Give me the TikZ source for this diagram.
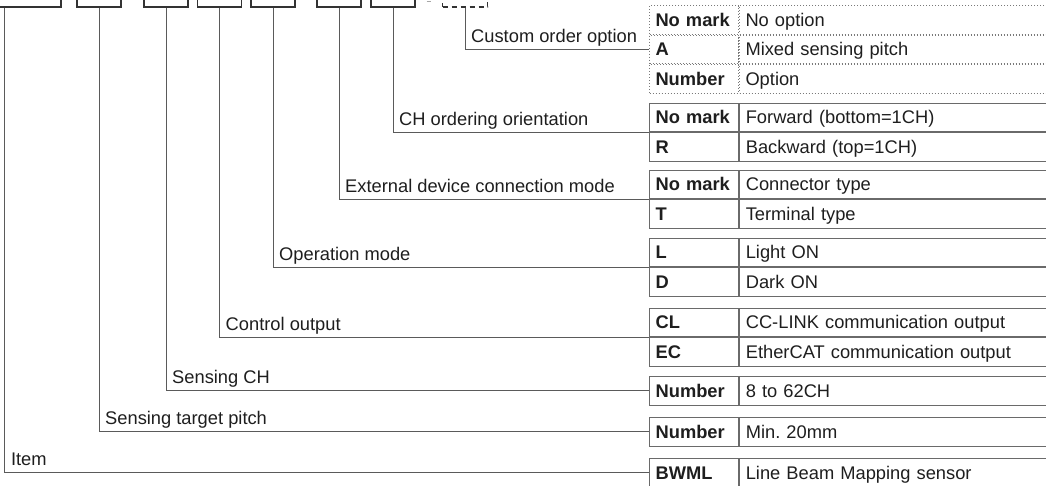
\documentclass[tikz,border=0pt]{standalone}
\usepackage{fontspec}
\setmainfont{Liberation Sans}
\usepackage{tikz}
\usetikzlibrary{positioning, calc}
\definecolor{frameline}{HTML}{333333}
\definecolor{gridline} {HTML}{6A6A6A}
\definecolor{dotline}  {HTML}{7A7A7A}
\definecolor{leadline} {HTML}{5A5A5A}
\definecolor{inktext}  {HTML}{1E1E1E}
\newcommand{\diafont}{\fontsize{18.3}{22}\selectfont}
\tikzset{
  codebox/.style={
    draw=frameline, line width=1.3pt, rectangle,
    minimum width=44pt, minimum height=38pt, inner sep=0pt
  },
  optbox/.style={
    codebox, dash pattern=on 5pt off 4pt
  },
  keycell/.style={
    draw=gridline, line width=1.2pt, rectangle,
    minimum width=89pt, minimum height=28.5pt,
    text width=77pt, text height=16pt, text depth=3pt,
    inner xsep=6pt, inner ysep=0pt,
    align=left, font=\diafont\bfseries, text=inktext
  },
  valcell/.style={
    draw=gridline, line width=1.2pt, rectangle,
    minimum width=330pt, minimum height=28.5pt,
    text width=318pt, text height=16pt, text depth=3pt,
    inner xsep=6pt, inner ysep=0pt,
    align=left, font=\diafont, text=inktext
  },
  keydot/.style={
    keycell, draw=dotline, line width=1pt, dash pattern=on 1.2pt off 1.8pt
  },
  valdot/.style={
    valcell, draw=dotline, line width=1pt, dash pattern=on 1.2pt off 1.8pt
  },
  leader/.style={
    draw=leadline, line width=1pt
  },
  leadlabel/.style={
    anchor=base west, inner sep=0pt, xshift=6pt, yshift=7pt,
    font=\diafont, text=inktext
  },
}

\begin{document}
\begin{tikzpicture}[x=1pt, y=-1pt, font=\diafont]

% ---- Frame: image is 1046 x 485, y runs downward -------------------
\clip (0,0) rectangle (1046,485);

% ---- Code boxes (top edge runs off the page) -----------------------
\node[codebox, minimum width=81pt] (b1) at ( 20.5,-12) {};
\node[codebox] (b2) at ( 99.0,-12) {};
\node[codebox] (b3) at (166.0,-12) {};
\node[codebox] (b4) at (219.5,-12) {};
\node[codebox] (b5) at (273.0,-12) {};
\node[codebox] (b6) at (339.0,-12) {};
\node[codebox] (b7) at (393.0,-12) {};
\node[optbox, minimum width=45pt] (b8) at (465.0,-12) {};
\coordinate (b1tap) at ([xshift=25.5pt]b1.south west);

% hyphen between fixed part and option box
\draw[leader, draw=black!35] ($(b7.south east)+(11,-6)$) -- ++(4,0);

% ---- Option tables ------------------------------------------------
% custom order option (dotted)
\node[keydot, anchor=north west] (c1k) at (649,5) {No mark};
\node[valdot, right=0pt of c1k] (c1v) {No option};
\node[keydot, below=0pt of c1k] (c2k) {A};
\node[valdot, right=0pt of c2k] (c2v) {Mixed sensing pitch};
\node[keydot, below=0pt of c2k] (c3k) {Number};
\node[valdot, right=0pt of c3k] (c3v) {Option};

% CH ordering orientation
\node[keycell, anchor=north west] (r1k) at (649,102.5) {No mark};
\node[valcell, right=0pt of r1k] (r1v) {Forward (bottom=1CH)};
\node[keycell, below=0pt of r1k] (r2k) {R};
\node[valcell, right=0pt of r2k] (r2v) {Backward (top=1CH)};

% external device connection mode
\node[keycell, anchor=north west] (e1k) at (649,169.5) {No mark};
\node[valcell, right=0pt of e1k] (e1v) {Connector type};
\node[keycell, below=0pt of e1k] (e2k) {T};
\node[valcell, right=0pt of e2k] (e2v) {Terminal type};

% operation mode
\node[keycell, anchor=north west] (o1k) at (649,237.5) {L};
\node[valcell, right=0pt of o1k] (o1v) {Light ON};
\node[keycell, below=0pt of o1k] (o2k) {D};
\node[valcell, right=0pt of o2k] (o2v) {Dark ON};

% control output
\node[keycell, anchor=north west] (k1k) at (649,307.5) {CL};
\node[valcell, right=0pt of k1k] (k1v) {CC-LINK communication output};
\node[keycell, below=0pt of k1k] (k2k) {EC};
\node[valcell, right=0pt of k2k] (k2v) {EtherCAT communication output};

% sensing CH / pitch / item
\node[keycell, anchor=north west] (nk) at (649,376) {Number};
\node[valcell, right=0pt of nk] (nv) {8 to 62CH};
\node[keycell, anchor=north west] (pk) at (649,417) {Number};
\node[valcell, right=0pt of pk] (pv) {Min.\ 20mm};
\node[keycell, anchor=north west] (ik) at (649,458) {BWML};
\node[valcell, right=0pt of ik] (iv) {Line Beam Mapping sensor};

% ---- Leaders ------------------------------------------------------
\draw[leader] (b8.south)  |- (c2k.west);
\draw[leader] (b7.south)  |- (r1k.south west);
\draw[leader] (b6.south)  |- (e1k.south west);
\draw[leader] (b5.south)  |- (o1k.south west);
\draw[leader] (b4.south)  |- (k1k.south west);
\draw[leader] (b3.south)  |- (nk.west);
\draw[leader] (b2.south)  |- (pk.west);
\draw[leader] (b1tap)     |- (ik.west);

% ---- Leader labels -------------------------------------------------
\node[leadlabel] (l_custom) at (b8.south |- c2k.west)       {Custom order option};
\node[leadlabel] (l_order)  at (b7.south |- r1k.south west) {CH ordering orientation};
\node[leadlabel] (l_conn)   at (b6.south |- e1k.south west) {External device connection mode};
\node[leadlabel] (l_mode)   at (b5.south |- o1k.south west) {Operation mode};
\node[leadlabel] (l_ctrl)   at (b4.south |- k1k.south west) {Control output};
\node[leadlabel] (l_ch)     at (b3.south |- nk.west)        {Sensing CH};
\node[leadlabel] (l_pitch)  at (b2.south |- pk.west)        {Sensing target pitch};
\node[leadlabel] (l_item)   at (b1tap |- ik.west)           {Item};

\end{tikzpicture}
\end{document}
